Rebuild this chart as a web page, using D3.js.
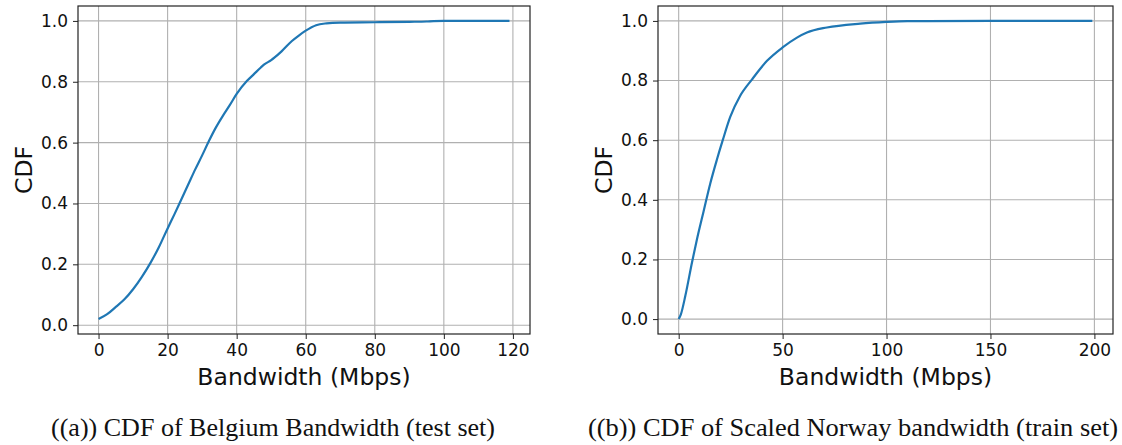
<!DOCTYPE html>
<html>
<head>
<meta charset="utf-8">
<script src="https://cdn.jsdelivr.net/npm/d3@7"></script>
<style>
  body { margin: 0; background: #fff; }
  svg { display: block; }
</style>
</head>
<body>
<svg width="1122" height="445"></svg>
<script>
// Belgium bandwidth CDF (test set)
var belgiumBw  = [0, 2.5, 5, 7.5, 10, 12.5, 15, 17.5, 20, 22, 24, 26, 28, 30, 32, 34, 36, 38, 40, 43, 45, 47, 48, 50, 51, 53, 56, 58, 60, 63, 66, 70, 80, 90, 95, 97, 100, 119];
var belgiumCdf = [0.02, 0.036, 0.06, 0.085, 0.118, 0.158, 0.204, 0.257, 0.318, 0.365, 0.414, 0.463, 0.512, 0.558, 0.606, 0.65, 0.688, 0.723, 0.76, 0.803, 0.825, 0.847, 0.857, 0.871, 0.88, 0.90, 0.934, 0.952, 0.968, 0.986, 0.992, 0.9945, 0.9956, 0.997, 0.998, 0.9995, 1.0, 1.0];

// Scaled Norway bandwidth CDF (train set)
var norwayBw  = [0, 1.1, 3.2, 6.4, 8.8, 12, 15.2, 18.4, 21.2, 24.8, 29.6, 35.3, 42.5, 50, 56.9, 61.7, 71.3, 87.3, 100, 110, 150, 199];
var norwayCdf = [0, 0.017, 0.078, 0.19, 0.268, 0.362, 0.455, 0.535, 0.60, 0.678, 0.749, 0.804, 0.866, 0.911, 0.944, 0.961, 0.978, 0.991, 0.9966, 0.999, 1.0, 1.0];

var yTicks = [0, 0.2, 0.4, 0.6, 0.8, 1.0];
var belgiumXTicks = [0, 20, 40, 60, 80, 100, 120];
var norwayXTicks = [0, 50, 100, 150, 200];

var captionA = '((a)) CDF of Belgium Bandwidth (test set)';
var captionB = '((b)) CDF of Scaled Norway bandwidth (train set)';

var svg = d3.select('svg');
var lineColor = '#1f77b4';

function drawPanel(opt) {
    var xs = opt.xs, ys = opt.ys;
    var xMin = d3.min(xs), xMax = d3.max(xs);
    var yMin = d3.min(ys), yMax = d3.max(ys);
    var xm = (xMax - xMin) * 0.05, ym = (yMax - yMin) * 0.05;

    var x = d3.scaleLinear().domain([xMin - xm, xMax + xm]).range([opt.l, opt.r]);
    var y = d3.scaleLinear().domain([yMin - ym, yMax + ym]).range([opt.b, opt.t]);

    var g = svg.append('g');

    // grid
    g.append('g').selectAll('line.gx')
        .data(opt.xTicks)
        .join('line')
        .attr('x1', d => x(d)).attr('x2', d => x(d))
        .attr('y1', opt.t).attr('y2', opt.b)
        .attr('stroke', '#b0b0b0').attr('stroke-width', 1.1);
    g.append('g').selectAll('line.gy')
        .data(yTicks)
        .join('line')
        .attr('x1', opt.l).attr('x2', opt.r)
        .attr('y1', d => y(d)).attr('y2', d => y(d))
        .attr('stroke', '#b0b0b0').attr('stroke-width', 1.1);

    // curve
    var pts = xs.map((v, i) => [v, ys[i]]);
    g.append('path')
        .datum(pts)
        .attr('fill', 'none')
        .attr('stroke', lineColor)
        .attr('stroke-width', 2.2)
        .attr('stroke-linejoin', 'round')
        .attr('d', d3.line().x(d => x(d[0])).y(d => y(d[1])).curve(d3.curveMonotoneX));

    // axes
    var xAxis = g.append('g')
        .attr('transform', 'translate(0,' + opt.b + ')')
        .call(d3.axisBottom(x).tickValues(opt.xTicks).tickFormat(d3.format('d')).tickSize(5).tickPadding(5));
    var yAxis = g.append('g')
        .attr('transform', 'translate(' + opt.l + ',0)')
        .call(d3.axisLeft(y).tickValues(yTicks).tickFormat(d3.format('.1f')).tickSize(5).tickPadding(5));
    [xAxis, yAxis].forEach(function(a) {
        a.select('.domain').remove();
        a.selectAll('line').attr('stroke', '#222').attr('stroke-width', 1);
        a.selectAll('text')
            .style('font-family', 'DejaVu Sans')
            .style('font-size', '17px')
            .attr('fill', '#111');
    });

    // frame
    g.append('rect')
        .attr('x', opt.l).attr('y', opt.t)
        .attr('width', opt.r - opt.l).attr('height', opt.b - opt.t)
        .attr('fill', 'none').attr('stroke', '#222').attr('stroke-width', 1.2);

    // labels
    g.append('text')
        .attr('x', (opt.l + opt.r) / 2).attr('y', 385)
        .attr('text-anchor', 'middle')
        .style('font-family', 'DejaVu Sans').style('font-size', '23.5px')
        .attr('fill', '#111')
        .text('Bandwidth (Mbps)');
    g.append('text')
        .attr('transform', 'translate(' + opt.yLabelX + ',' + (opt.t + opt.b) / 2 + ')rotate(-90)')
        .attr('text-anchor', 'middle')
        .style('font-family', 'DejaVu Sans').style('font-size', '23.5px')
        .attr('fill', '#111')
        .text('CDF');

    svg.append('text')
        .attr('x', opt.capX).attr('y', 436)
        .attr('text-anchor', 'middle')
        .attr('textLength', opt.capW).attr('lengthAdjust', 'spacingAndGlyphs')
        .style('font-family', 'Liberation Serif').style('font-size', '26px')
        .attr('fill', '#111')
        .text(opt.caption);
}

drawPanel({ xs: belgiumBw, ys: belgiumCdf, xTicks: belgiumXTicks,
    l: 78, r: 530, t: 6, b: 334, yLabelX: 32, capX: 273, capW: 444, caption: captionA });
drawPanel({ xs: norwayBw, ys: norwayCdf, xTicks: norwayXTicks,
    l: 658, r: 1113, t: 6, b: 334, yLabelX: 612, capX: 853, capW: 530, caption: captionB });
</script>
</body>
</html>
